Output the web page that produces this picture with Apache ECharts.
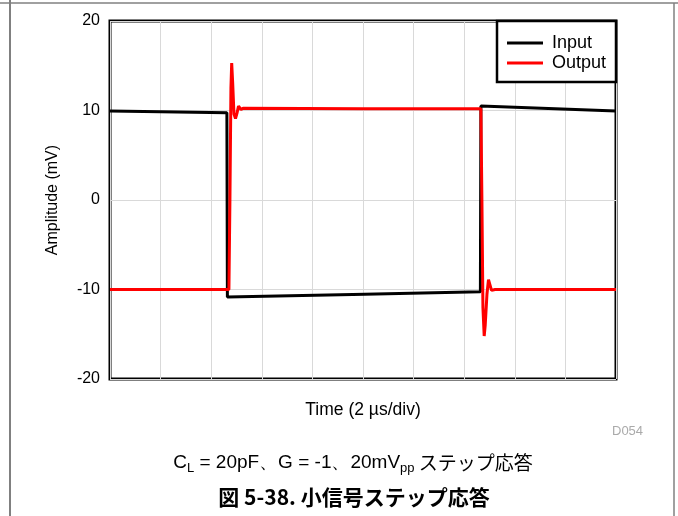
<!DOCTYPE html>
<html><head><meta charset="utf-8">
<script src="https://cdn.jsdelivr.net/npm/echarts@6/dist/echarts.min.js"></script>
<style>html,body{margin:0;padding:0;background:#fff}#c{width:678px;height:516px}</style>
</head><body><div id="c"></div>
<script>
// Time in µs (2 µs/div, 10 divisions), amplitude in mV
const inputTime  = [0, 4.62, 4.64, 9.6, 14.64, 14.66, 20];
const inputVal   = [9.95, 9.75, -10.85, -10.55, -10.25, 10.5, 9.95];
const outputTime = [0, 4.7, 4.74, 4.78, 4.81, 4.85, 4.9, 4.96, 5.02, 5.08, 5.12, 5.18, 5.26, 10, 14.66,
                    14.7, 14.74, 14.79, 14.83, 14.9, 14.96, 15.01, 15.08, 15.14, 15.22, 20];
const outputVal  = [-10.0, -10.0, 0, 12.5, 15.3, 13, 9.6, 9.1, 9.7, 10.5, 10.6, 10.1, 10.25, 10.2, 10.2,
                    0, -12, -15.2, -14, -10.5, -8.9, -8.9, -10.1, -10.3, -10.0, -10.0];
const yTicks = [-20, -10, 0, 10, 20];
const seriesNames = ['Input', 'Output'];
const xTitle = 'Time (2 µs/div)';
const yTitle = 'Amplitude (mV)';

const pairs = (t, v) => t.map((x, i) => [x, v[i]]);
const chart = echarts.init(document.getElementById('c'), null, {renderer: 'canvas'});
const F = 'Liberation Sans, Arial, sans-serif';
chart.setOption({
  animation: false,
  grid: {left: 110, right: 62, top: 21, bottom: 137, show: true, borderColor: '#000', borderWidth: 3, backgroundColor: 'transparent'},
  xAxis: {type: 'value', min: 0, max: 20, interval: 2,
    axisLine: {show: false}, axisTick: {show: false}, axisLabel: {show: false},
    splitLine: {show: true, lineStyle: {color: '#d9d9d9', width: 1}},
    name: xTitle, nameLocation: 'middle', nameGap: 22,
    nameTextStyle: {fontFamily: F, fontSize: 17.5, color: '#000'}},
  yAxis: {type: 'value', min: yTicks[0], max: yTicks[yTicks.length - 1], interval: 10,
    axisLine: {show: false}, axisTick: {show: false},
    axisLabel: {fontFamily: F, fontSize: 16, color: '#000', margin: 10},
    splitLine: {show: true, lineStyle: {color: '#d9d9d9', width: 1}},
    name: yTitle, nameLocation: 'middle', nameGap: 49,
    nameTextStyle: {fontFamily: F, fontSize: 16, color: '#000'}},
  legend: {orient: 'vertical', left: 507, top: 34, itemWidth: 36, itemHeight: 3, itemGap: 2,
    icon: 'rect', padding: 0, z: 20,
    textStyle: {fontFamily: F, fontSize: 18, color: '#000', lineHeight: 18, padding: [0, 0, 0, 4]},
    data: seriesNames},
  series: [
    {name: seriesNames[0], type: 'line', data: pairs(inputTime, inputVal), showSymbol: false, symbol: 'none',
     lineStyle: {color: '#000', width: 3}, itemStyle: {color: '#000'}, z: 3},
    {name: seriesNames[1], type: 'line', data: pairs(outputTime, outputVal), showSymbol: false, symbol: 'none',
     lineStyle: {color: '#ff0000', width: 3}, itemStyle: {color: '#ff0000'}, z: 4}
  ],
  graphic: [
    {type: 'rect', shape: {x: 497, y: 21, width: 119, height: 61}, style: {fill: '#fff', stroke: '#000', lineWidth: 2.5}, z: 10},
    {type: 'line', shape: {x1: 0, y1: 3, x2: 678, y2: 3}, style: {stroke: '#808080', lineWidth: 1.5}, z: 10},
    {type: 'line', shape: {x1: 10, y1: 0, x2: 10, y2: 516}, style: {stroke: '#808080', lineWidth: 2}, z: 10},
    {type: 'line', shape: {x1: 674, y1: 3, x2: 674, y2: 516}, style: {stroke: '#808080', lineWidth: 1.5}, z: 10},
    {type: 'text', left: 612, top: 425, style: {text: 'D054', font: '13px ' + F, fill: '#aaaaaa'}, z: 10},
    {type: 'text', x: 353, y: 463, style: {
      text: '{n|C}{s|L}{n| = 20pF、G = -1、20mV}{s|pp}{j| ステップ応答}',
      align: 'center', verticalAlign: 'middle',
      rich: {
        n: {font: '19px ' + F, fill: '#000'},
        s: {font: '13px ' + F, fill: '#000', padding: [11, 0, 0, 0]},
        j: {font: '19px "Noto Sans CJK JP"', fill: '#000'}
      }}, z: 10},
    {type: 'text', x: 354, y: 497, style: {text: '図 5-38. 小信号ステップ応答', align: 'center', verticalAlign: 'middle',
      font: 'bold 21px "Noto Sans CJK JP", ' + F, fill: '#000'}, z: 10}
  ]
});
</script></body></html>
